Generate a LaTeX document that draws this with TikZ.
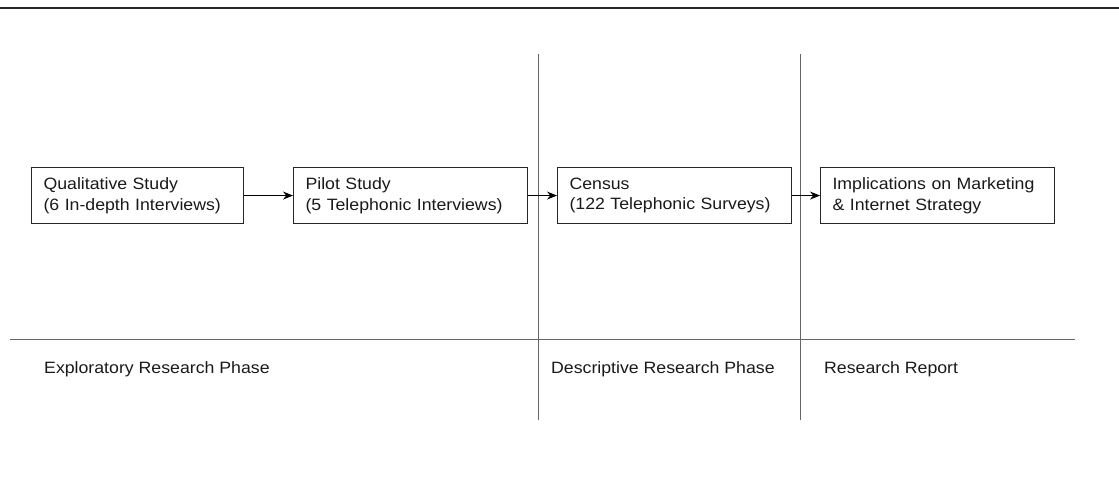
\documentclass[tikz,border=0pt]{standalone}
\usepackage{fontspec}
\setmainfont{Liberation Sans}[FakeStretch=1.08]
\usetikzlibrary{arrows.meta}
\begin{document}
\begin{tikzpicture}[x=1pt,y=-1pt,
  stagebox/.style={draw=black!85, line width=1.1pt, rectangle, minimum height=56pt,
    inner xsep=12pt, inner ysep=0pt, align=left, text=black!90,
    font=\fontsize{16.4}{20.5}\selectfont, anchor=north west},
  phase/.style={anchor=west, inner sep=0pt, text=black!90, font=\fontsize{16.4}{20}\selectfont},
  rule/.style={draw=black!60, line width=0.8pt},
  flow/.style={draw=black, line width=1.1pt, -{Stealth[length=10pt,width=8pt]}}]
\useasboundingbox (0,0) rectangle (1119,478);

% top rule
\draw[draw=black!85, line width=1.2pt] (0,8) -- (1119,8);

% phase separators
\coordinate (v1t) at (538,54);  \coordinate (v1b) at (538,420);
\coordinate (v2t) at (800,54);  \coordinate (v2b) at (800,420);
\coordinate (hl) at (10,339);   \coordinate (hr) at (1075,339);
\draw[rule] (v1t) -- (v1b);
\draw[rule] (v2t) -- (v2b);
\draw[rule] (hl) -- (hr);

% stages
\node[stagebox, text width=188pt] (qual) at (31,167) {Qualitative Study\\(6 In-depth Interviews)};
\node[stagebox, text width=210pt] (pilot) at (293,167) {Pilot Study\\(5 Telephonic Interviews)};
\node[stagebox, text width=210pt] (census) at (557,167) {Census\\(122 Telephonic Surveys)};
\node[stagebox, text width=210pt] (impl) at (820,167) {Implications on Marketing\\\& Internet Strategy};

\draw[flow] (qual.east) -- (pilot.west);
\draw[flow] (pilot.east) -- (census.west);
\draw[flow] (census.east) -- (impl.west);

% phase labels
\node[phase] (p1) at (44,369) {Exploratory Research Phase};
\node[phase] (p2) at (551,369) {Descriptive Research Phase};
\node[phase] (p3) at (824,369) {Research Report};
\end{tikzpicture}
\end{document}
